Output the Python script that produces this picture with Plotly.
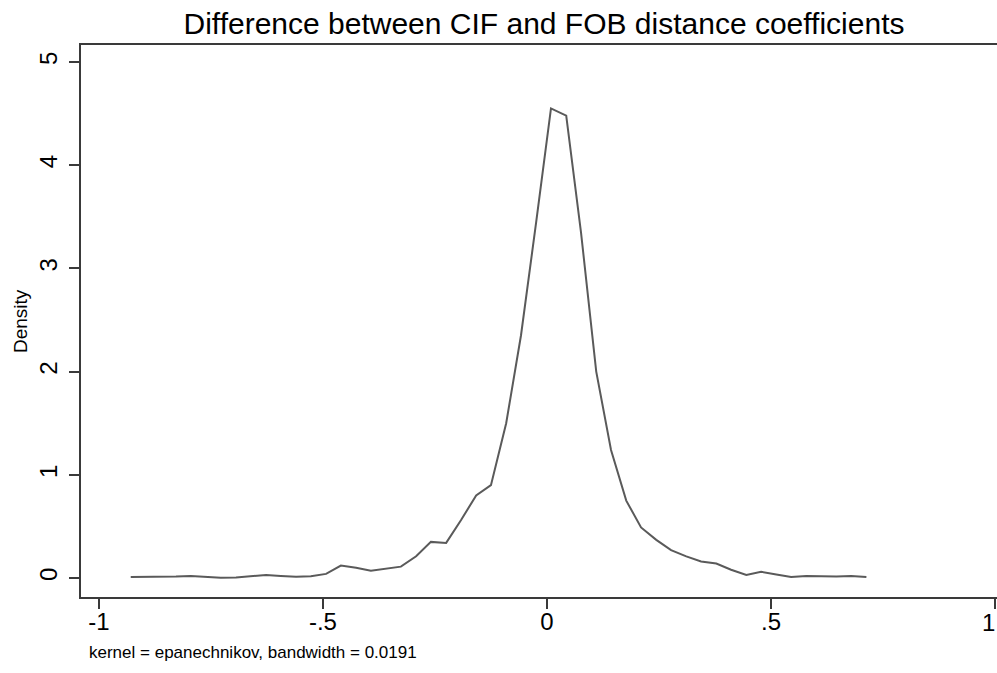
import plotly.graph_objects as go

# kdensity evaluation grid (50 points) and estimated density values
x_grid = [
    -0.929, -0.895, -0.862, -0.828, -0.795, -0.761, -0.728, -0.694, -0.661, -0.627,
    -0.594, -0.560, -0.527, -0.493, -0.460, -0.426, -0.393, -0.359, -0.326, -0.292,
    -0.259, -0.225, -0.192, -0.158, -0.125, -0.091, -0.058, -0.024, 0.009, 0.043,
    0.076, 0.110, 0.143, 0.177, 0.210, 0.244, 0.277, 0.311, 0.344, 0.378,
    0.411, 0.445, 0.478, 0.512, 0.545, 0.579, 0.612, 0.646, 0.679, 0.713,
]
density = [
    0.01, 0.01, 0.01, 0.015, 0.02, 0.01, 0.003, 0.005, 0.015, 0.03,
    0.02, 0.012, 0.018, 0.04, 0.12, 0.10, 0.07, 0.094, 0.11, 0.21,
    0.35, 0.34, 0.56, 0.80, 0.90, 1.50, 2.35, 3.45, 4.55, 4.48,
    3.35, 2.00, 1.24, 0.75, 0.49, 0.37, 0.27, 0.21, 0.16, 0.14,
    0.08, 0.03, 0.06, 0.035, 0.01, 0.02, 0.015, 0.015, 0.02, 0.01,
]

x_ticks = [-1, -0.5, 0, 0.5, 1]
x_ticklabels = ["-1", "-.5", "0", ".5", ""]  # "1" sits on the right edge, drawn below
y_ticks = [0, 1, 2, 3, 4, 5]

FONT = "Liberation Sans, Arial, sans-serif"
AXIS = "#3a3a3a"

W, H = 997, 673

fig = go.Figure()
fig.add_trace(
    go.Scatter(
        x=x_grid,
        y=density,
        mode="lines",
        line=dict(color="#5a5a5a", width=2),
        showlegend=False,
        hoverinfo="skip",
    )
)

fig.update_layout(
    template="none",
    width=W,
    height=H,
    paper_bgcolor="white",
    plot_bgcolor="white",
    margin=dict(l=81, r=0, t=45, b=76),
    font=dict(family=FONT, color="black"),
    title=dict(
        text="Difference between CIF and FOB distance coefficients",
        font=dict(family=FONT, size=30, color="black"),
        x=544 / W,
        xanchor="center",
        xref="container",
        y=1 - 23 / H,
        yanchor="middle",
    ),
)

fig.update_xaxes(
    range=[-1.040, 1.0045],
    tickvals=x_ticks,
    ticktext=x_ticklabels,
    ticks="outside",
    ticklen=10,
    tickwidth=1.5,
    tickcolor=AXIS,
    showline=True,
    linecolor=AXIS,
    linewidth=2,
    mirror=True,
    showgrid=False,
    zeroline=False,
    automargin=False,
    ticklabelstandoff=-8,
    tickfont=dict(family=FONT, size=24, color="black"),
)
fig.update_yaxes(
    range=[-0.184, 5.165],
    tickvals=y_ticks,
    ticks="outside",
    ticklen=10,
    tickwidth=1.5,
    tickcolor=AXIS,
    tickangle=-90,
    showline=True,
    linecolor=AXIS,
    linewidth=2,
    showgrid=False,
    zeroline=False,
    automargin=False,
    ticklabelstandoff=2,
    tickfont=dict(family=FONT, size=24, color="black"),
)

fig.add_annotation(
    text="1",
    xref="paper",
    yref="paper",
    x=1,
    y=-25 / 552,
    xanchor="right",
    yanchor="middle",
    showarrow=False,
    font=dict(family=FONT, size=24, color="black"),
)
fig.add_annotation(
    text="Density",
    textangle=-90,
    xref="paper",
    yref="paper",
    x=-61 / 916,
    y=0.5,
    xanchor="center",
    yanchor="middle",
    showarrow=False,
    font=dict(family=FONT, size=19, color="black"),
)
fig.add_annotation(
    text="kernel = epanechnikov, bandwidth = 0.0191",
    xref="paper",
    yref="paper",
    x=6 / 916,
    y=-55 / 552,
    xanchor="left",
    yanchor="middle",
    showarrow=False,
    font=dict(family=FONT, size=17, color="black"),
)

# drop the default page margin so the figure fills the window exactly
fig.write_html(
    "out.html",
    config={"displayModeBar": False},
    post_script="document.body.style.margin='0';document.body.style.overflow='hidden';",
)
